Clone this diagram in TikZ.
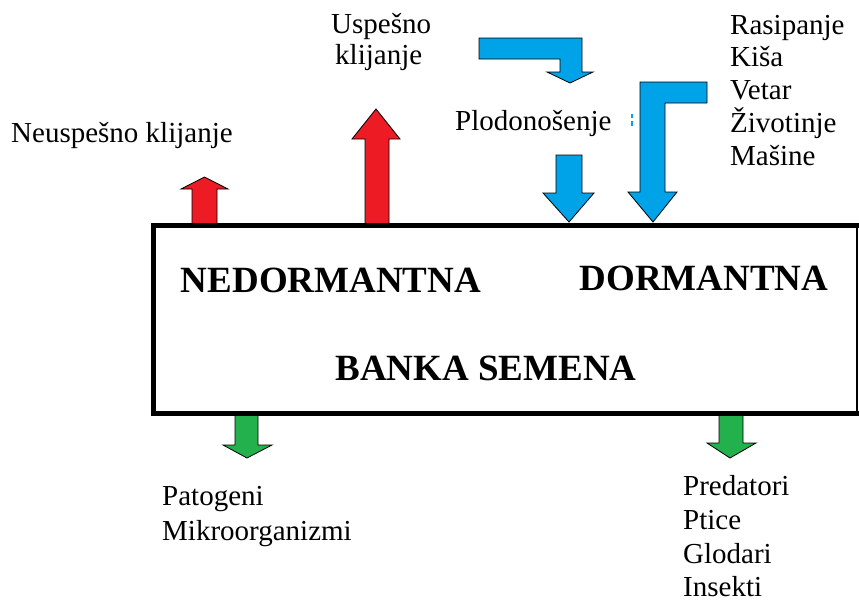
\documentclass[tikz,border=0pt]{standalone}
\usepackage{fontspec}
\setmainfont{Liberation Serif}
\definecolor{arrred}{HTML}{ED1C24}
\definecolor{arrblue}{HTML}{00A2E8}
\definecolor{arrgreen}{HTML}{22B14C}
\tikzset{
  lbl/.style={anchor=base west, inner sep=0pt, font=\fontsize{29}{32}\selectfont},
  big/.style={anchor=base, inner sep=0pt, font=\fontsize{37}{40}\selectfont\bfseries},
  redarr/.style={fill=arrred, draw=black, line width=0.8pt, line join=miter},
  bluearr/.style={fill=arrblue, draw=black, line width=0.8pt, line join=miter},
  greenarr/.style={fill=arrgreen, draw=black, line width=0.8pt, line join=miter},
}
\begin{document}
\begin{tikzpicture}[x=1pt,y=-1pt]
\useasboundingbox (0,0) rectangle (859,603);
% red arrows
\draw[redarr] (192,225) -- (192,189) -- (181,189) -- (204.5,177) -- (228,189) -- (217,189) -- (217,225) -- cycle;
\draw[redarr] (365,225) -- (365,139) -- (352,139) -- (376,109) -- (400,139) -- (389,139) -- (389,225) -- cycle;
% blue arrows
\draw[bluearr] (479,38) -- (582,38) -- (582,72) -- (593,72) -- (570,83) -- (547,72) -- (560,72) -- (560,59) -- (479,59) -- cycle;
\draw[bluearr] (556,155) -- (582,155) -- (582,193) -- (594,193) -- (569,222) -- (543,193) -- (556,193) -- cycle;
\draw[bluearr] (707,82) -- (707,103) -- (665,103) -- (665,192) -- (677,192) -- (653,222) -- (628,192) -- (640,192) -- (640,82) -- cycle;
\fill[arrblue] (631,114) rectangle (633,118);
\fill[arrblue] (631,121) rectangle (633,126);
% green arrows
\draw[greenarr] (235,413) -- (258,413) -- (258,445) -- (272,445) -- (247,458) -- (223,445) -- (235,445) -- cycle;
\draw[greenarr] (719,413) -- (743,413) -- (743,443) -- (756,443) -- (730,458) -- (707,443) -- (719,443) -- cycle;
% box
\draw[line width=5pt, line join=miter] (859,225) -- (153,225) -- (153,413) -- (859,413);
\draw[line width=1.5pt] (857,225) -- (857,413);
% texts
\node[lbl] (neusp) at (11,142) {Neuspešno klijanje};
\node[lbl] (usp1) at (331,33) {Uspešno};
\node[lbl] (usp2) at (335,64) {klijanje};
\node[lbl] (plod) at (455,130) {Plodonošenje};
\node[lbl] (r1) at (730,34) {Rasipanje};
\node[lbl] (r2) at (730,66) {Kiša};
\node[lbl] (r3) at (730,99) {Vetar};
\node[lbl] (r4) at (730,132) {Životinje};
\node[lbl] (r5) at (730,165) {Mašine};
\node[lbl] (p1) at (162,505) {Patogeni};
\node[lbl] (p2) at (162,540) {Mikroorganizmi};
\node[lbl] (q1) at (683,495) {Predatori};
\node[lbl] (q2) at (683,529) {Ptice};
\node[lbl] (q3) at (683,563) {Glodari};
\node[lbl] (q4) at (683,596) {Insekti};
\node[big] (nedorm) at (331,292) {NEDORMANTNA};
\node[big] (dorm) at (704,290) {DORMANTNA};
\node[big] (banka) at (486,380) {BANKA SEMENA};
\end{tikzpicture}
\end{document}
